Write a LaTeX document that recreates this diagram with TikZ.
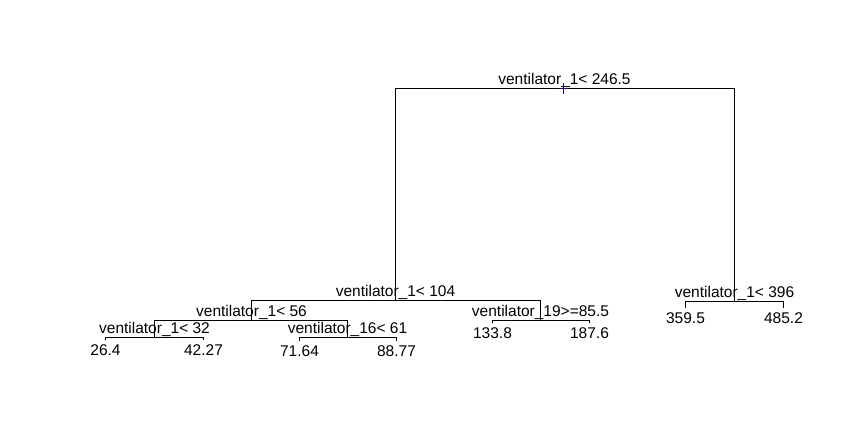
\documentclass[tikz,border=0pt]{standalone}
\usepackage{fontspec}
\setmainfont{Liberation Sans}
\definecolor{pointcol}{RGB}{45,0,90}
\begin{document}
\begin{tikzpicture}[x=1pt,y=-1pt,
  every node/.style={font=\fontsize{15.5}{18}\selectfont,inner sep=0pt},
  split/.style={anchor=base,yshift=4pt},
  leaf/.style={anchor=base,yshift=-15.5pt},
  edge/.style={line width=1pt}]
  \useasboundingbox (-0.5,-0.5) rectangle (849.5,446.5);
  % Split points
  \coordinate (n1) at (564,88);
  \coordinate (n2) at (395,300);
  \coordinate (n3) at (734,301);
  \coordinate (n4) at (251,320);
  \coordinate (n5) at (540,320);
  \coordinate (n8) at (154,337);
  \coordinate (n9) at (347,337);
  % Leaf ends
  \coordinate (l16) at (105,339);
  \coordinate (l17) at (203,339);
  \coordinate (l18) at (299,340);
  \coordinate (l19) at (396,340);
  \coordinate (l10) at (492,322);
  \coordinate (l11) at (589,322);
  \coordinate (l6) at (685,307);
  \coordinate (l7) at (783,307);
  % Branches
  \foreach \p/\l/\r in {n1/n2/n3,n2/n4/n5,n4/n8/n9,n8/l16/l17,
                        n9/l18/l19,n5/l10/l11,n3/l6/l7}
    \draw[edge] (\l) |- (\p) -| (\r);
  % Split labels
  \node[split] (s1) at (n1) {ventilator\_1< 246.5};
  \node[split] (s2) at (n2) {ventilator\_1< 104};
  \node[split] (s3) at (n3) {ventilator\_1< 396};
  \node[split] (s4) at (n4) {ventilator\_1< 56};
  \node[split] (s5) at (n5) {ventilator\_19>=85.5};
  \node[split] (s8) at (n8) {ventilator\_1< 32};
  \node[split] (s9) at (n9) {ventilator\_16< 61};
  % Leaf values
  \foreach \n/\v in {l16/26.4,l17/42.27,l18/71.64,l19/88.77,
                     l10/133.8,l11/187.6,l6/359.5,l7/485.2}
    \node[leaf] (t\n) at (\n) {\v};
  % Marked point
  \coordinate (pt) at (563,88);
  \draw[pointcol,line width=1.3pt] (pt) ++(-4.5,0) -- ++(9,0)
    (pt) ++(0,-5.5) -- ++(0,11);
\end{tikzpicture}
\end{document}
